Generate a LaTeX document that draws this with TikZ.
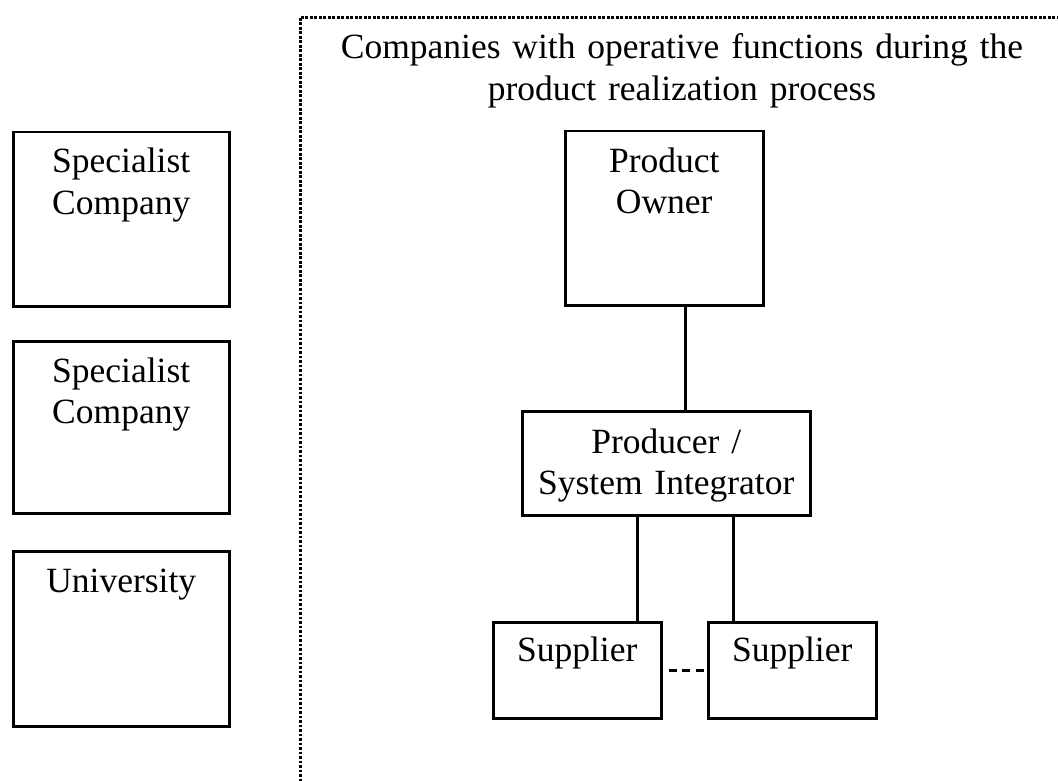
\documentclass[tikz,border=0pt]{standalone}
\usepackage{fontspec}
\setmainfont{Liberation Serif}
\usetikzlibrary{calc}

\tikzset{
  box/.style={draw, line width=2.5pt, rectangle, inner sep=0pt, anchor=north west},
  boxtext/.style={font=\fontsize{35.5}{41.5}\selectfont, align=center, inner sep=0pt, anchor=base},
  link/.style={line width=2.5pt},
  gap/.style={line width=2.8pt, dash pattern=on 8pt off 5.5pt, shorten <=6pt},
  frameline/.style={line width=3pt, dash pattern=on 2.6pt off 1.9pt}
}

\begin{document}
\begin{tikzpicture}[x=1pt, y=-1pt]
  \useasboundingbox (0,0) rectangle (1058,781);
  \clip (0,0) rectangle (1058,781);

  % dotted frame around the operative companies (runs off the page to the right and bottom)
  \draw[frameline] (300,18) rectangle (1120,840);
  \node[boxtext, text width=700pt] (title) at (682,59)
    {Companies with operative functions during the\\product realization process};

  % supporting organisations on the left
  \node[box, minimum width=216pt, minimum height=174pt] (sc1) at (12,131) {};
  \node[boxtext, text width=216pt] (sc1t) at ($(sc1.north)+(0,42)$) {Specialist\\Company};

  \node[box, minimum width=216pt, minimum height=172pt] (sc2) at (12,340) {};
  \node[boxtext, text width=216pt] (sc2t) at ($(sc2.north)+(0,42)$) {Specialist\\Company};

  \node[box, minimum width=216pt, minimum height=175pt] (uni) at (12,550) {};
  \node[boxtext, text width=216pt] (unit) at ($(uni.north)+(0,42)$) {University};

  % operative chain
  \node[box, minimum width=198pt, minimum height=174pt] (po) at (564,130) {};
  \node[boxtext, text width=198pt] (pot) at ($(po.north)+(0,42)$) {Product\\Owner};

  \node[box, minimum width=288pt, minimum height=104pt] (prod) at (521,410) {};
  \node[boxtext, text width=288pt] (prodt) at ($(prod.north)+(0,43)$) {Producer /\\System Integrator};

  \node[box, minimum width=168pt, minimum height=96pt] (sup1) at (492,621) {};
  \node[boxtext, text width=168pt] (sup1t) at ($(sup1.north)+(0,40)$) {Supplier};

  \node[box, minimum width=168pt, minimum height=96pt] (sup2) at (707,621) {};
  \node[boxtext, text width=168pt] (sup2t) at ($(sup2.north)+(0,40)$) {Supplier};

  % connectors
  \coordinate (poout) at ($(po.south)+(21,0)$);
  \draw[link] (poout) -- (poout |- prod.north);
  \coordinate (prodl) at ($(prod.south)+(-29,0)$);
  \coordinate (prodr) at ($(prod.south)+(67,0)$);
  \draw[link] (prodl) -- (prodl |- sup1.north);
  \draw[link] (prodr) -- (prodr |- sup2.north);
  \draw[gap] (sup1.east) -- (sup2.west);
\end{tikzpicture}
\end{document}
